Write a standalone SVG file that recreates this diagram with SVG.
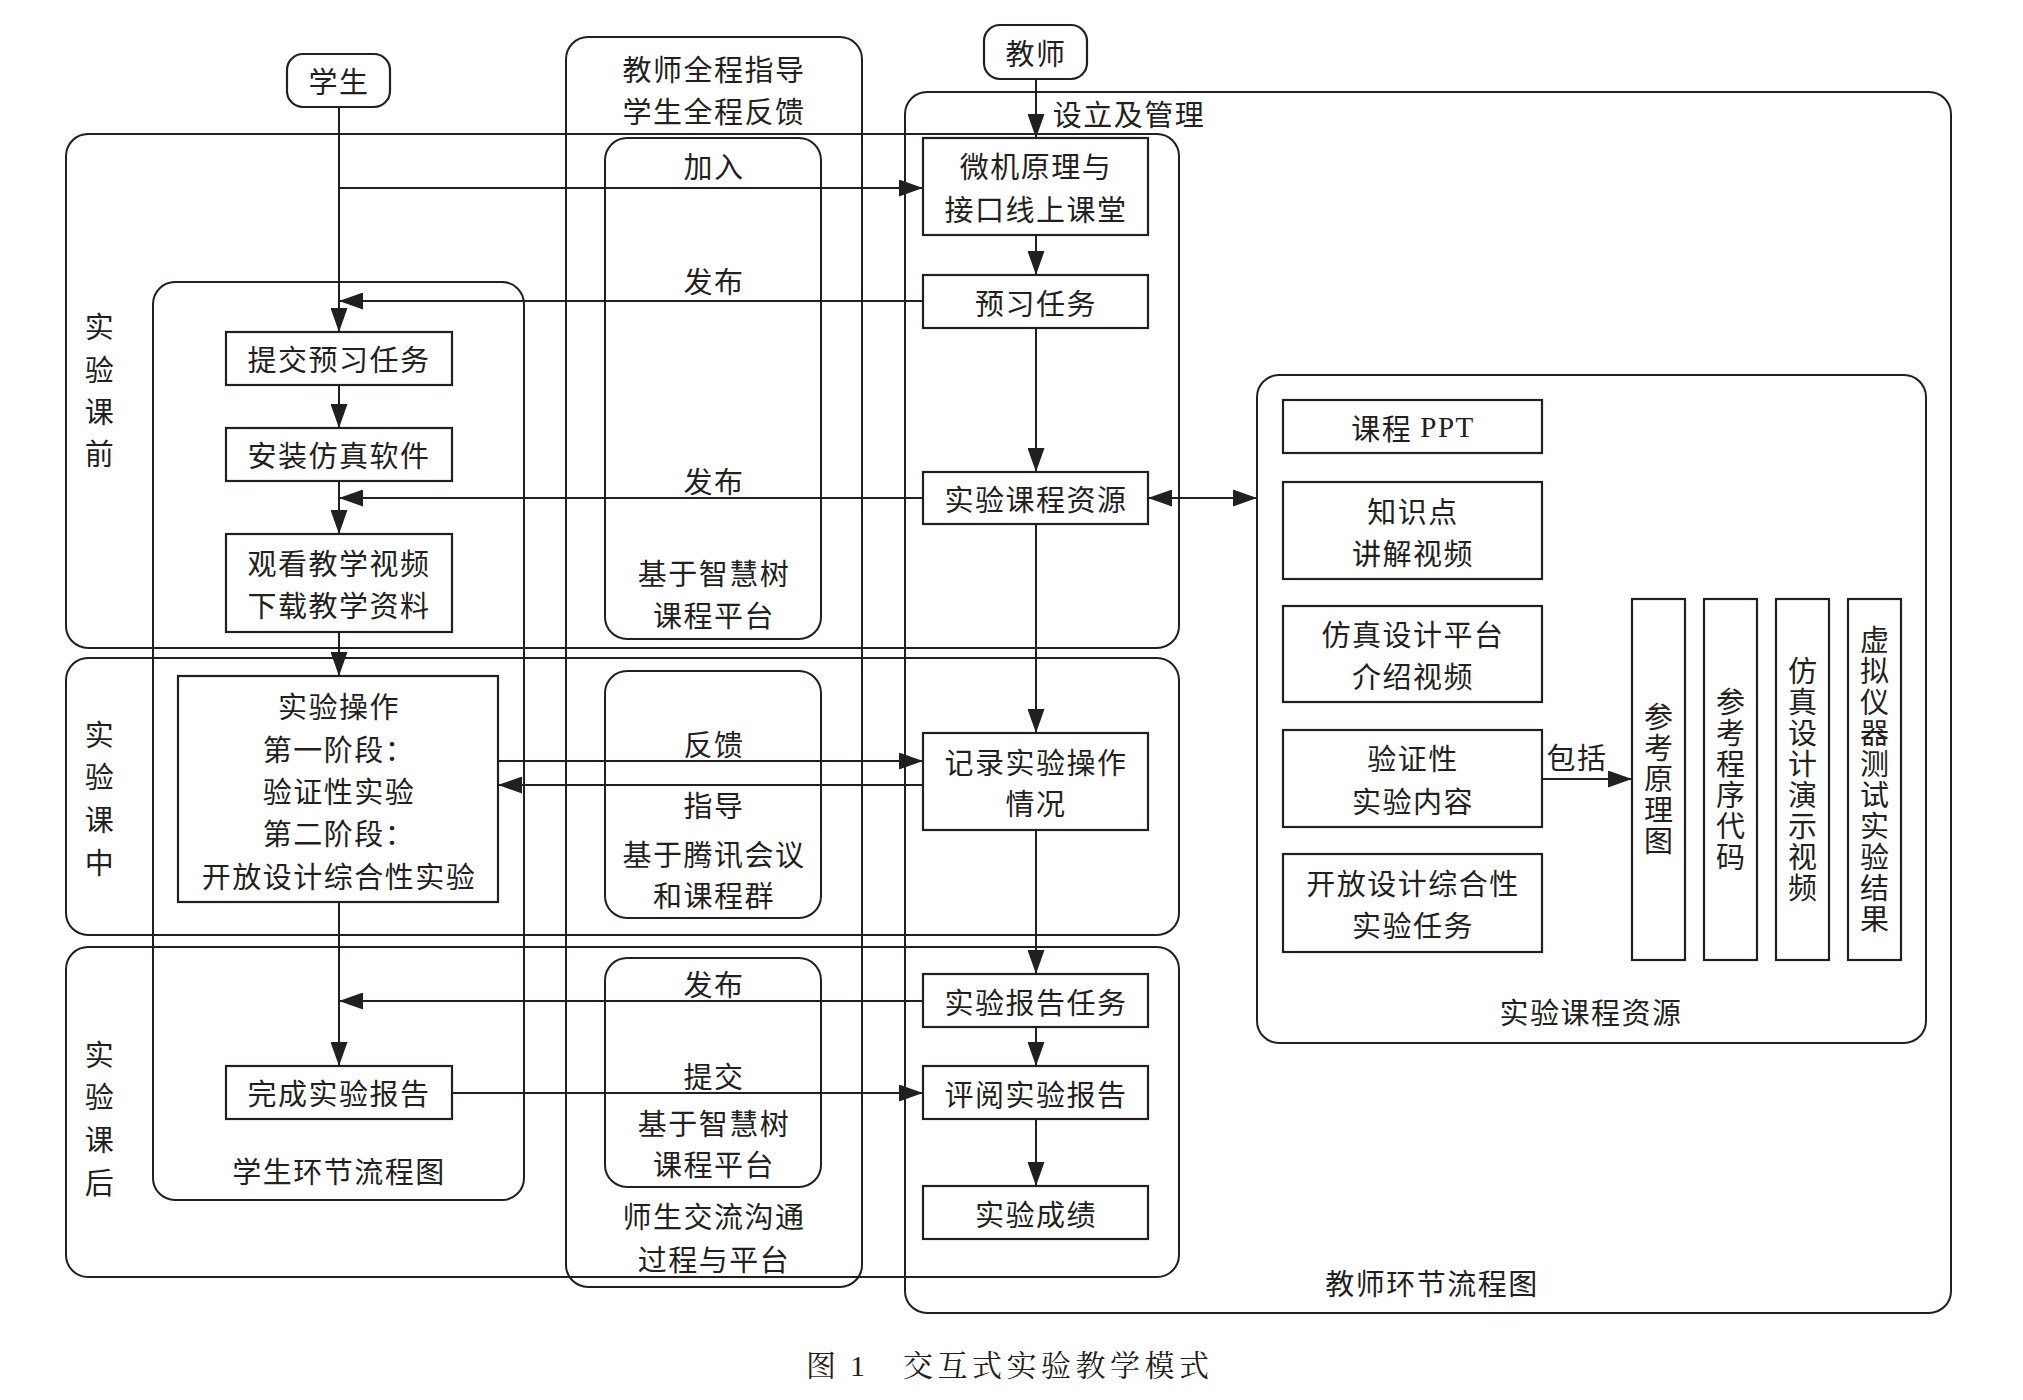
<svg xmlns="http://www.w3.org/2000/svg" width="2023" height="1400" viewBox="0 0 2023 1400">
<defs>
<style>
.t{font-family:"Noto Sans CJK SC","Liberation Sans",sans-serif;font-size:29px;fill:#231f20;text-anchor:middle;dominant-baseline:central;letter-spacing:1.5px;}
.tv{font-family:"Noto Sans CJK SC","Liberation Sans",sans-serif;font-size:29px;fill:#231f20;text-anchor:middle;dominant-baseline:central;writing-mode:vertical-rl;letter-spacing:2px;}
.node{fill:#fff;stroke:#231f20;stroke-width:2.2;}
.cont{fill:none;stroke:#231f20;stroke-width:2;}
.conn{fill:none;stroke:#231f20;stroke-width:2;}
.arr{marker-end:url(#ah);}
.cap{font-family:"Liberation Serif","Noto Serif CJK SC","Noto Sans CJK SC",serif;font-size:30px;fill:#231f20;dominant-baseline:central;}
</style>
<marker id="ah" markerUnits="userSpaceOnUse" markerWidth="24" markerHeight="17" refX="24" refY="8.5" orient="auto">
<path d="M0,0 L24,8.5 L0,17 Z" fill="#231f20"/>
</marker>
<marker id="ahs" markerUnits="userSpaceOnUse" markerWidth="24" markerHeight="17" refX="0" refY="8.5" orient="auto">
<path d="M24,0 L0,8.5 L24,17 Z" fill="#231f20"/>
</marker>
</defs>
<rect width="2023" height="1400" fill="#fff"/>

<!-- containers -->
<g id="containers">
<g id="teacher-flow"><rect class="cont" x="905" y="92" width="1046" height="1221" rx="22"/>
<text class="t" x="1432" y="1282">教师环节流程图</text>
<text class="t" x="1129" y="113">设立及管理</text></g>
<g id="middle-column"><rect class="cont" x="566" y="37" width="296" height="1250" rx="22"/>
<text class="t" x="714" y="68">教师全程指导</text>
<text class="t" x="714" y="110">学生全程反馈</text>
<text class="t" x="714" y="1215">师生交流沟通</text>
<text class="t" x="714" y="1258">过程与平台</text></g>
<g id="phase-before"><rect class="cont" x="66" y="134" width="1113" height="514" rx="22"/>
<text class="t" x="100"><tspan x="100" y="325">实</tspan><tspan x="100" y="368">验</tspan><tspan x="100" y="410">课</tspan><tspan x="100" y="452">前</tspan></text></g>
<g id="phase-during"><rect class="cont" x="66" y="658" width="1113" height="277" rx="22"/>
<text class="t" x="100"><tspan x="100" y="733">实</tspan><tspan x="100" y="775">验</tspan><tspan x="100" y="818">课</tspan><tspan x="100" y="861">中</tspan></text></g>
<g id="phase-after"><rect class="cont" x="66" y="947" width="1113" height="330" rx="22"/>
<text class="t" x="100"><tspan x="100" y="1053">实</tspan><tspan x="100" y="1095">验</tspan><tspan x="100" y="1138">课</tspan><tspan x="100" y="1181">后</tspan></text></g>
<g id="student-flow"><rect class="cont" x="153" y="282" width="371" height="918" rx="22"/>
<text class="t" x="339" y="1170">学生环节流程图</text></g>
<g id="platform-1"><rect class="cont" x="605" y="138" width="216" height="501" rx="22"/>
<text class="t" x="714" y="572">基于智慧树</text>
<text class="t" x="714" y="614">课程平台</text></g>
<g id="platform-2"><rect class="cont" x="605" y="671" width="216" height="247" rx="22"/>
<text class="t" x="714" y="853">基于腾讯会议</text>
<text class="t" x="714" y="894">和课程群</text></g>
<g id="platform-3"><rect class="cont" x="605" y="958" width="216" height="229" rx="22"/>
<text class="t" x="714" y="1122">基于智慧树</text>
<text class="t" x="714" y="1163">课程平台</text></g>
<g id="resources"><rect class="cont" x="1257" y="375" width="669" height="668" rx="22"/>
<text class="t" x="1591" y="1011">实验课程资源</text></g>
</g>

<!-- connectors -->
<g id="connectors">
<path class="conn arr" d="M339,107 V332"/>
<path class="conn arr" d="M339,188 H923"/>
<path class="conn arr" d="M923,301 H339"/>
<path class="conn arr" d="M339,385 V428"/>
<path class="conn arr" d="M339,481 V534"/>
<path class="conn arr" d="M923,498 H339"/>
<path class="conn arr" d="M339,632 V676"/>
<path class="conn arr" d="M498,761 H923"/>
<path class="conn arr" d="M923,785 H498"/>
<path class="conn arr" d="M339,902 V1066"/>
<path class="conn arr" d="M923,1001 H339"/>
<path class="conn arr" d="M452,1093 H923"/>
<path class="conn arr" d="M1036,79 V138"/>
<path class="conn arr" d="M1036,235 V275"/>
<path class="conn arr" d="M1036,328 V472"/>
<path class="conn arr" d="M1036,524 V733"/>
<path class="conn arr" d="M1036,830 V974"/>
<path class="conn arr" d="M1036,1027 V1066"/>
<path class="conn arr" d="M1036,1119 V1186"/>
<path class="conn arr" d="M1148,498 H1257" marker-start="url(#ahs)"/>
<path class="conn arr" d="M1542,779 H1632"/>
<text class="t" x="714" y="165">加入</text>
<text class="t" x="714" y="280">发布</text>
<text class="t" x="714" y="480">发布</text>
<text class="t" x="714" y="743">反馈</text>
<text class="t" x="714" y="804">指导</text>
<text class="t" x="714" y="983">发布</text>
<text class="t" x="714" y="1075">提交</text>
<text class="t" x="1577" y="756">包括</text>
</g>

<!-- student nodes -->
<g id="n-student"><rect class="node" x="287" y="54" width="103" height="53" rx="16"/><text class="t" x="339" y="80">学生</text></g>
<g id="n-submit-preview"><rect class="node" x="226" y="332" width="226" height="53"/><text class="t" x="339" y="358">提交预习任务</text></g>
<g id="n-install"><rect class="node" x="226" y="428" width="226" height="53"/><text class="t" x="339" y="454">安装仿真软件</text></g>
<g id="n-watch"><rect class="node" x="226" y="534" width="226" height="98"/><text class="t" x="339" y="562">观看教学视频</text><text class="t" x="339" y="604">下载教学资料</text></g>
<g id="n-operate"><rect class="node" x="178" y="676" width="320" height="226"/>
<text class="t" x="339" y="705">实验操作</text>
<text class="t" x="339" y="748">第一阶段：</text>
<text class="t" x="339" y="790">验证性实验</text>
<text class="t" x="339" y="832">第二阶段：</text>
<text class="t" x="339" y="875">开放设计综合性实验</text></g>
<g id="n-report"><rect class="node" x="226" y="1066" width="226" height="53"/><text class="t" x="339" y="1092">完成实验报告</text></g>

<!-- teacher nodes -->
<g id="n-teacher"><rect class="node" x="984" y="25" width="103" height="54" rx="16"/><text class="t" x="1036" y="52">教师</text></g>
<g id="n-classroom"><rect class="node" x="923" y="138" width="225" height="97"/><text class="t" x="1036" y="165">微机原理与</text><text class="t" x="1036" y="208">接口线上课堂</text></g>
<g id="n-preview-task"><rect class="node" x="923" y="275" width="225" height="53"/><text class="t" x="1036" y="302">预习任务</text></g>
<g id="n-resource"><rect class="node" x="923" y="472" width="225" height="52"/><text class="t" x="1036" y="498">实验课程资源</text></g>
<g id="n-record"><rect class="node" x="923" y="733" width="225" height="97"/><text class="t" x="1036" y="761">记录实验操作</text><text class="t" x="1036" y="802">情况</text></g>
<g id="n-report-task"><rect class="node" x="923" y="974" width="225" height="53"/><text class="t" x="1036" y="1001">实验报告任务</text></g>
<g id="n-review"><rect class="node" x="923" y="1066" width="225" height="53"/><text class="t" x="1036" y="1093">评阅实验报告</text></g>
<g id="n-grade"><rect class="node" x="923" y="1186" width="225" height="53"/><text class="t" x="1036" y="1213">实验成绩</text></g>

<!-- resource nodes -->
<g id="r-ppt"><rect class="node" x="1283" y="400" width="259" height="53"/><text class="t" x="1413" y="427">课程 <tspan font-family="Liberation Serif">PPT</tspan></text></g>
<g id="r-knowledge"><rect class="node" x="1283" y="482" width="259" height="97"/><text class="t" x="1413" y="510">知识点</text><text class="t" x="1413" y="552">讲解视频</text></g>
<g id="r-platform"><rect class="node" x="1283" y="606" width="259" height="96"/><text class="t" x="1413" y="633">仿真设计平台</text><text class="t" x="1413" y="675">介绍视频</text></g>
<g id="r-verify"><rect class="node" x="1283" y="730" width="259" height="97"/><text class="t" x="1413" y="757">验证性</text><text class="t" x="1413" y="800">实验内容</text></g>
<g id="r-open"><rect class="node" x="1283" y="854" width="259" height="98"/><text class="t" x="1413" y="882">开放设计综合性</text><text class="t" x="1413" y="924">实验任务</text></g>
<g id="r-schematic"><rect class="node" x="1632" y="599" width="53" height="361"/>
<text class="tv" x="1658.5" y="780">参考原理图</text></g>
<g id="r-code"><rect class="node" x="1704" y="599" width="53" height="361"/>
<text class="tv" x="1730.5" y="780">参考程序代码</text></g>
<g id="r-demo"><rect class="node" x="1776" y="599" width="53" height="361"/>
<text class="tv" x="1802.5" y="780">仿真设计演示视频</text></g>
<g id="r-virtual"><rect class="node" x="1848" y="599" width="53" height="361"/>
<text class="tv" x="1874.5" y="780">虚拟仪器测试实验结果</text></g>

<!-- caption -->
<g id="caption">
<text class="cap" x="806" y="1365">图</text>
<text class="cap" x="850" y="1365">1</text>
<text class="cap" x="903" y="1365" letter-spacing="4.5">交互式实验教学模式</text>
</g>
</svg>
